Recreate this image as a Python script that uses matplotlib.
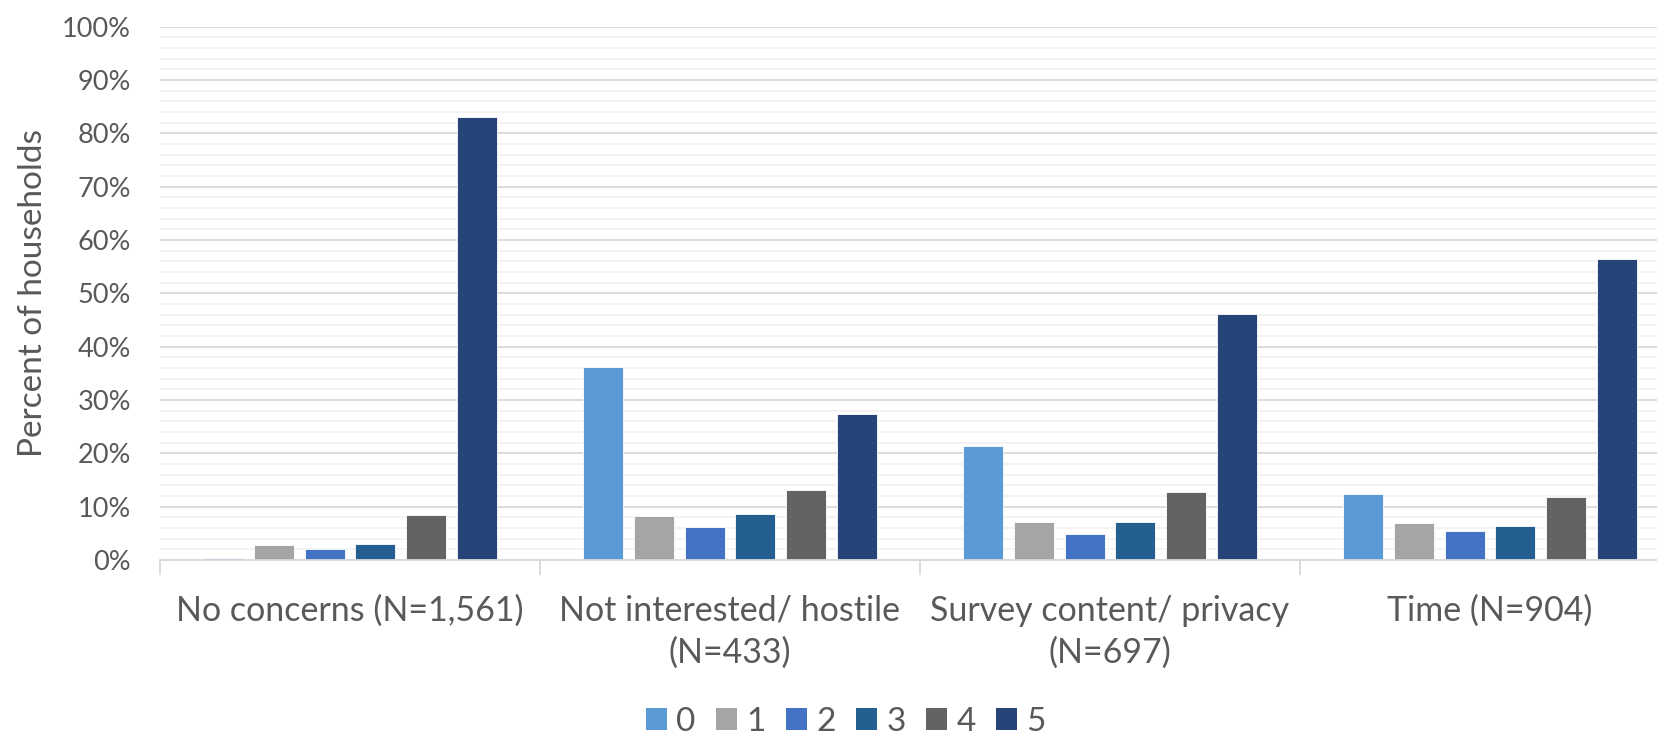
import matplotlib
matplotlib.use("Agg")
import matplotlib.pyplot as plt
from matplotlib.ticker import MultipleLocator, FuncFormatter, FixedLocator
from matplotlib.patches import Patch
import numpy as np

plt.rcParams['font.family'] = ['Lato', 'DejaVu Sans']

categories = ["No concerns (N=1,561)", "Not interested/ hostile\n(N=433)",
              "Survey content/ privacy\n(N=697)", "Time (N=904)"]
series_names = ["0", "1", "2", "3", "4", "5"]
values = {
    "0": [0.4, 36.2, 21.4, 12.4],
    "1": [2.8, 8.2, 7.2, 7.0],
    "2": [2.1, 6.1, 4.8, 5.4],
    "3": [3.0, 8.6, 7.1, 6.3],
    "4": [8.4, 13.1, 12.7, 11.9],
    "5": [83.0, 27.4, 46.2, 56.4],
}
colors = ["#5B9BD5", "#A5A5A5", "#4472C4", "#255E91", "#636363", "#264478"]
text_color = "#595959"

W, H = 1658, 735
fig = plt.figure(figsize=(W / 100, H / 100), dpi=100)
ax = fig.add_axes([160 / W, (H - 560) / H, 1520 / W, 533.3 / H])

x = np.arange(len(categories))
pitch = 0.1333
bw = 0.105
for i, name in enumerate(series_names):
    ax.bar(x + (i - 2.5) * pitch, values[name], width=bw, color=colors[i],
           edgecolor="white", linewidth=0.6, zorder=3, label=name)

ax.set_xlim(-0.5, len(categories) - 0.5)
ax.set_ylim(0, 100)
ax.yaxis.set_major_locator(MultipleLocator(10))
ax.yaxis.set_minor_locator(MultipleLocator(2))
ax.yaxis.set_major_formatter(FuncFormatter(lambda v, p: f"{int(round(v))}%"))
ax.grid(axis="y", which="major", color="#D9D9D9", linewidth=1.3, zorder=0)
ax.grid(axis="y", which="minor", color="#F2F2F2", linewidth=1.3, zorder=0)
ax.tick_params(axis="y", which="both", length=0, pad=21, labelsize=19.5,
               labelcolor=text_color)

# x axis: separators as major ticks, labels on minor ticks
ax.xaxis.set_major_locator(FixedLocator(np.arange(-0.5, len(categories), 1.0)))
ax.xaxis.set_major_formatter(FuncFormatter(lambda v, p: ""))
ax.set_xticks(x, categories, minor=True)
ax.tick_params(axis="x", which="major", length=11, width=1.3, color="#D9D9D9")
ax.tick_params(axis="x", which="minor", length=0, pad=25, labelsize=24.5,
               labelcolor=text_color)
for lab in ax.get_xticklabels(minor=True):
    lab.set_linespacing(1.38)

for s in ["top", "right", "left"]:
    ax.spines[s].set_visible(False)
ax.spines["bottom"].set_color("#D9D9D9")
ax.spines["bottom"].set_linewidth(1.3)
ax.spines["bottom"].set_zorder(4)

ax.set_ylabel("Percent of households", fontsize=24, color=text_color)
ax.yaxis.set_label_coords((48 - 160) / 1520, 0.5)

handles = [Patch(facecolor=c, edgecolor="none") for c in colors]
fig.legend(handles, series_names, loc="center", bbox_to_anchor=(846 / W, 1 - 722 / H),
           ncol=6, frameon=False, fontsize=24, labelcolor=text_color,
           handlelength=0.63, handleheight=0.63, handletextpad=0.27, columnspacing=0.62,
           borderpad=0, borderaxespad=0)

fig.savefig("out.png", dpi=100)
